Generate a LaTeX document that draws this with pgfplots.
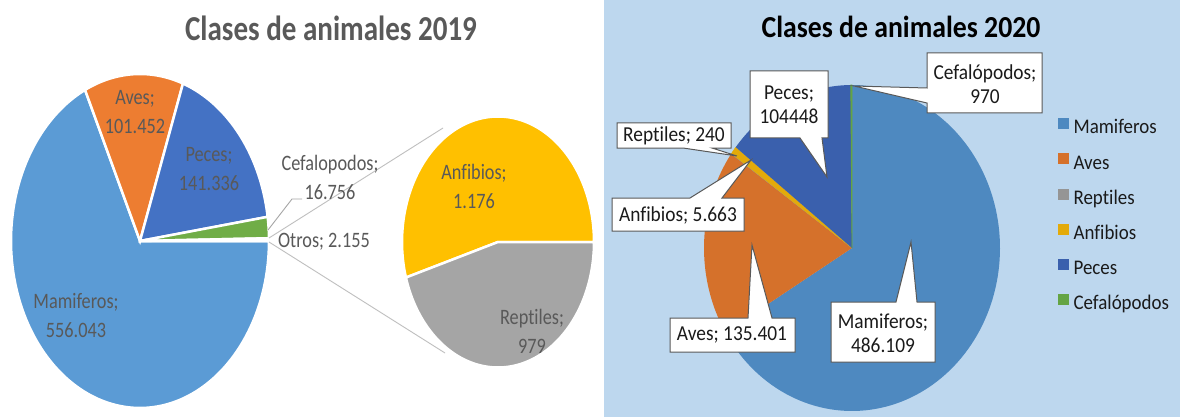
\documentclass[border=0pt]{standalone}
\usepackage{fontspec}
\setmainfont{Carlito}[Ligatures=NoCommon]
\newfontfamily\nf{Carlito}[FakeStretch=0.83, Ligatures=NoCommon]
\newfontfamily\nfb{Carlito}[FakeStretch=0.91, Ligatures=NoCommon]
\usepackage{xfp}
\usepackage{pgfplots}
\pgfplotsset{compat=1.18}
\definecolor{cMamA}{HTML}{5B9BD5}
\definecolor{cAveA}{HTML}{ED7D31}
\definecolor{cPecA}{HTML}{4472C4}
\definecolor{cCefA}{HTML}{70AD47}
\definecolor{cAnfA}{HTML}{FFC000}
\definecolor{cRepA}{HTML}{A5A5A5}
\definecolor{cTxtA}{HTML}{595959}
\definecolor{cBg}{HTML}{BDD7EE}
\definecolor{cMamB}{HTML}{4E89C0}
\definecolor{cAveB}{HTML}{D5712B}
\definecolor{cPecB}{HTML}{3A60AD}
\definecolor{cAnfB}{HTML}{E3AA0A}
\definecolor{cRepB}{HTML}{959595}
\definecolor{cCefB}{HTML}{64A444}
\definecolor{cBox}{HTML}{595959}
\definecolor{cTxtB}{HTML}{1A1A1A}
% ---- data 2019 ----
\def\mamA{556043}\def\aveA{101452}\def\pecA{141336}\def\cefA{16756}\def\otrA{2155}
\def\anfA{1176}\def\repA{979}
% ---- data 2020 ----
\def\mamB{486109}\def\aveB{135401}\def\repB{240}\def\anfB{5663}\def\pecB{104448}\def\cefB{970}
% ---- angles (clockwise) ----
\edef\totA{\fpeval{\mamA+\aveA+\pecA+\cefA+\otrA}}
\edef\aa{\fpeval{round(360-360*\mamA/\totA,4)}}
\edef\ab{\fpeval{round(\aa-360*\aveA/\totA,4)}}
\edef\ac{\fpeval{round(\ab-360*\pecA/\totA,4)}}
\edef\ad{\fpeval{round(\ac-360*\cefA/\totA,4)}}
\edef\ae{\fpeval{round(360*\anfA/(\anfA+\repA),4)}}
\edef\totB{\fpeval{\mamB+\aveB+\repB+\anfB+\pecB+\cefB}}
\edef\ba{\fpeval{round(90-360*\mamB/\totB,4)}}
\edef\bb{\fpeval{round(\ba-360*\aveB/\totB,4)}}
\edef\bc{\fpeval{round(\bb-360*\repB/\totB,4)}}
\edef\bd{\fpeval{round(\bc-360*\anfB/\totB,4)}}
\edef\be{\fpeval{round(\bd-360*\pecB/\totB,4)}}
\newcommand\fA{\nf\fontsize{22}{29}\selectfont}
\newcommand\fB{\nfb\fontsize{21.3}{24}\selectfont}
\begin{document}
\begin{tikzpicture}
\begin{axis}[
  scale only axis, width=1180pt, height=417pt,
  xmin=0, xmax=1180, ymin=0, ymax=417, y dir=reverse,
  hide axis, clip=false,
  legend style={at={(axis description cs:0.8966,0.717)}, anchor=north west,
    draw=none, fill=none, inner sep=0pt, row sep=15.5pt, column sep=5pt,
    font=\nfb\fontsize{20.8}{20}\selectfont\color{cTxtB},
    nodes={inner sep=0pt, text height=13pt, text depth=4pt}},
  legend cell align=left,
]
% backgrounds
\fill[white] (axis cs:0,0) rectangle (axis cs:1180,417);
\fill[cBg] (axis cs:604,0) rectangle (axis cs:1180,417);
% ===== 2019 main pie (ellipse) =====
\addplot[forget plot, fill=cMamA, draw=white, line width=2.5pt, domain=\aa:360, samples=120, variable=\t]
  ({140+129*cos(\t)},{241-167*sin(\t)}) -- (axis cs:140,241) -- cycle;
\addplot[forget plot, fill=cAveA, draw=white, line width=2.5pt, domain=\ab:\aa, samples=40, variable=\t]
  ({140+129*cos(\t)},{241-167*sin(\t)}) -- (axis cs:140,241) -- cycle;
\addplot[forget plot, fill=cPecA, draw=white, line width=2.5pt, domain=\ac:\ab, samples=50, variable=\t]
  ({140+129*cos(\t)},{241-167*sin(\t)}) -- (axis cs:140,241) -- cycle;
\addplot[forget plot, fill=cCefA, draw=white, line width=2.5pt, domain=\ad:\ac, samples=10, variable=\t]
  ({140+129*cos(\t)},{241-167*sin(\t)}) -- (axis cs:140,241) -- cycle;
\addplot[forget plot, fill=white, draw=white, line width=2.5pt, domain=0:\ad, samples=5, variable=\t]
  ({140+129*cos(\t)},{241-167*sin(\t)}) -- (axis cs:140,241) -- cycle;
% ===== 2019 secondary pie =====
\addplot[forget plot, fill=cAnfA, draw=white, line width=2.5pt, domain=0:\ae, samples=120, variable=\t]
  ({498+96*cos(\t)},{242-125.5*sin(\t)}) -- (axis cs:498,242) -- cycle;
\addplot[forget plot, fill=cRepA, draw=white, line width=2.5pt, domain=\ae:360, samples=120, variable=\t]
  ({498+96*cos(\t)},{242-125.5*sin(\t)}) -- (axis cs:498,242) -- cycle;
% connectors
\addplot[forget plot, color=black!25, line width=0.9pt] coordinates {(269,238) (443,128)};
\addplot[forget plot, color=black!25, line width=0.9pt] coordinates {(269,242) (445,353)};
\addplot[forget plot, color=black!35, line width=0.9pt] coordinates {(268,230) (292,199) (302,199)};
% labels 2019
\node[font=\nf\bfseries\fontsize{35}{35}\selectfont, text=cTxtA, anchor=base] at (axis cs:331,41) {Clases de animales 2019};
\node[font=\fA, text=cTxtA, align=center] at (axis cs:135,112) {Aves;\\101.452};
\node[font=\fA, text=cTxtA, align=center] at (axis cs:209,169) {Peces;\\141.336};
\node[font=\fA, text=cTxtA, align=center] at (axis cs:330,177) {Cefalopodos;\\16.756};
\node[font=\fA, text=cTxtA, align=center] at (axis cs:324,242) {Otros; 2.155};
\node[font=\fA, text=cTxtA, align=center] at (axis cs:76,316) {Mamiferos;\\556.043};
\node[font=\fA, text=cTxtA, align=center] at (axis cs:474,186) {Anfibios;\\1.176};
\node[font=\fA, text=cTxtA, align=center] at (axis cs:532,331) {Reptiles;\\979};
% ===== 2020 pie =====
\addplot[forget plot, fill=cMamB, draw=none, domain=\ba:90, samples=120, variable=\t]
  ({852+148*cos(\t)},{248-163*sin(\t)}) -- (axis cs:852,248) -- cycle;
\addplot[forget plot, fill=cAveB, draw=none, domain=\bb:\ba, samples=50, variable=\t]
  ({852+148*cos(\t)},{248-163*sin(\t)}) -- (axis cs:852,248) -- cycle;
\addplot[forget plot, fill=cRepB, draw=cRepB, line width=0.3pt, domain=\bc:\bb, samples=3, variable=\t]
  ({852+148*cos(\t)},{248-163*sin(\t)}) -- (axis cs:852,248) -- cycle;
\addplot[forget plot, fill=cAnfB, draw=cAnfB, line width=0.3pt, domain=\bd:\bc, samples=5, variable=\t]
  ({852+148*cos(\t)},{248-163*sin(\t)}) -- (axis cs:852,248) -- cycle;
\addplot[forget plot, fill=cPecB, draw=none, domain=\be:\bd, samples=50, variable=\t]
  ({852+148*cos(\t)},{248-163*sin(\t)}) -- (axis cs:852,248) -- cycle;
\addplot[forget plot, fill=cCefB, draw=cCefB, line width=0.8pt, domain=-270:\be, samples=3, variable=\t]
  ({852+148*cos(\t)},{248-163*sin(\t)}) -- (axis cs:852,248) -- cycle;
% callouts
\draw[cBox, fill=white, line width=1pt] (axis cs:750,71) -- (axis cs:828,71) -- (axis cs:828,138) -- (axis cs:822,138) -- (axis cs:827,177) -- (axis cs:800,138) -- (axis cs:750,138) -- cycle;
\draw[cBox, fill=white, line width=1pt] (axis cs:617,123) -- (axis cs:731,123) -- (axis cs:731,148) -- (axis cs:712,148) -- (axis cs:737,156) -- (axis cs:683,148) -- (axis cs:617,148) -- cycle;
\draw[cBox, fill=white, line width=1pt] (axis cs:612,231) -- (axis cs:612,198) -- (axis cs:690,198) -- (axis cs:751,160) -- (axis cs:722,198) -- (axis cs:744,198) -- (axis cs:744,231) -- cycle;
\draw[cBox, fill=white, line width=1pt] (axis cs:927,53) -- (axis cs:1042,53) -- (axis cs:1042,113) -- (axis cs:927,113) -- (axis cs:927,103) -- (axis cs:854,86) -- (axis cs:927,88) -- cycle;
\draw[cBox, fill=white, line width=1pt] (axis cs:670,352) -- (axis cs:670,318) -- (axis cs:748,318) -- (axis cs:752,245) -- (axis cs:772,318) -- (axis cs:795,318) -- (axis cs:795,352) -- cycle;
\draw[cBox, fill=white, line width=1pt] (axis cs:831,362) -- (axis cs:831,302) -- (axis cs:896,302) -- (axis cs:911,242) -- (axis cs:917,302) -- (axis cs:935,302) -- (axis cs:935,362) -- cycle;
\node[font=\fB, text=cTxtB, align=center] at (axis cs:789,105) {Peces;\\104448};
\node[font=\fB, text=cTxtB, align=center] at (axis cs:674,136) {Reptiles; 240};
\node[font=\fB, text=cTxtB, align=center] at (axis cs:678,215) {Anfibios; 5.663};
\node[font=\fB, text=cTxtB, align=center] at (axis cs:985,84) {Cefalópodos;\\970};
\node[font=\fB, text=cTxtB, align=center] at (axis cs:732,335) {Aves; 135.401};
\node[font=\fB, text=cTxtB, align=center] at (axis cs:883,333) {Mamiferos;\\486.109};
\node[font=\nfb\bfseries\fontsize{30.5}{30}\selectfont, text=black, anchor=base] at (axis cs:901,38) {Clases de animales 2020};
% legend
\addlegendimage{legend image code/.code={\fill[cMamB] (0pt,1pt) rectangle (10pt,11pt);}}
\addlegendentry{Mamiferos}
\addlegendimage{legend image code/.code={\fill[cAveB] (0pt,1pt) rectangle (10pt,11pt);}}
\addlegendentry{Aves}
\addlegendimage{legend image code/.code={\fill[cRepB] (0pt,1pt) rectangle (10pt,11pt);}}
\addlegendentry{Reptiles}
\addlegendimage{legend image code/.code={\fill[cAnfB] (0pt,1pt) rectangle (10pt,11pt);}}
\addlegendentry{Anfibios}
\addlegendimage{legend image code/.code={\fill[cPecB] (0pt,1pt) rectangle (10pt,11pt);}}
\addlegendentry{Peces}
\addlegendimage{legend image code/.code={\fill[cCefB] (0pt,1pt) rectangle (10pt,11pt);}}
\addlegendentry{Cefalópodos}
\end{axis}
\end{tikzpicture}
\end{document}
